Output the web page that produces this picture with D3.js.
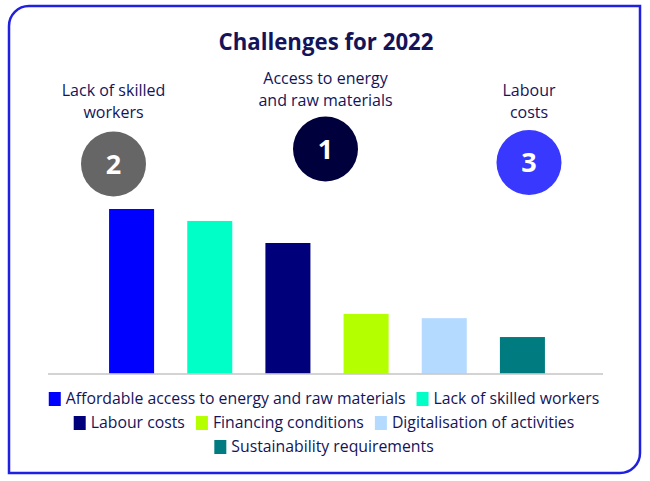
<!DOCTYPE html>
<html><head><meta charset="utf-8">
<script src="https://cdn.jsdelivr.net/npm/d3@7/dist/d3.min.js"></script>
<style>html,body{margin:0;padding:0;background:#fff;}svg{display:block;}</style>
</head><body>
<svg id="chart" width="650" height="481"></svg>
<script>
const title = "Challenges for 2022";
const categories = ["Affordable access to energy and raw materials","Lack of skilled workers","Labour costs","Financing conditions","Digitalisation of activities","Sustainability requirements"];
const values = [62, 57.5, 49.2, 22.5, 20.9, 13.8];
const colors = ["#0000ff","#00ffc6","#00007a","#b4ff00","#b4daff","#007c80"];
const rankLabels = [["Lack of skilled","workers"],["Access to energy","and raw materials"],["Labour","costs"]];
const rankNumbers = ["2","1","3"];
const rankColors = ["#666666","#00003c","#3838ff"];

const svg = d3.select("#chart");
const font = "'Open Sans', sans-serif";
const textColor = "#14145a";

// border: rounded top-left and bottom-right
const L=9,T=6,R=640,B=473,r=20;
svg.append("path")
  .attr("d",`M${L+r},${T} L${R},${T} L${R},${B-r} A${r},${r} 0 0 1 ${R-r},${B} L${L},${B} L${L},${T+r} A${r},${r} 0 0 1 ${L+r},${T} Z`)
  .attr("fill","#fff").attr("stroke","#2020e0").attr("stroke-width",2.5);

svg.append("text").attr("x",326).attr("y",50).attr("text-anchor","middle")
  .attr("font-family",font).attr("font-weight",700).attr("font-size",22.5)
  .attr("fill",textColor).attr("textLength",215).attr("lengthAdjust","spacingAndGlyphs").text(title);

// bars
const x = d3.scaleBand().domain(categories).range([92.5,561.5]).paddingInner(0.424).paddingOuter(0.212);
const y = d3.scaleLinear().domain([0,62]).range([373.7,209]);
svg.append("g").selectAll("rect").data(categories).join("rect")
  .attr("x",d=>x(d)).attr("width",x.bandwidth())
  .attr("y",(d,i)=>y(values[i])).attr("height",(d,i)=>y(0)-y(values[i]))
  .attr("fill",(d,i)=>colors[i]);
svg.append("line").attr("x1",48).attr("x2",603).attr("y1",374).attr("y2",374)
  .attr("stroke","#c4c4c4").attr("stroke-width",1.5);

// rank circles
const rankPos = [{cx:113.5,cy:164,ty:96},{cx:325.5,cy:149,ty:84},{cx:529,cy:162.5,ty:96}];
rankPos.forEach((p,i)=>{
  rankLabels[i].forEach((ln,j)=>svg.append("text").attr("text-anchor","middle").attr("font-family",font)
    .attr("font-size",16).attr("fill",textColor).attr("x",p.cx).attr("y",p.ty+j*22)
    .attr("textLength",null).text(ln));
  svg.append("circle").attr("cx",p.cx).attr("cy",p.cy).attr("r",32.5).attr("fill",rankColors[i]);
  svg.append("text").attr("x",p.cx).attr("y",p.cy+9.5).attr("text-anchor","middle")
    .attr("font-family",font).attr("font-weight",700).attr("font-size",27)
    .attr("fill","#fff").text(rankNumbers[i]);
});

// legend with wrapping
const lg = svg.append("g");
const sq = 12, gapT = 5, gapI = 11, maxW = 565, fs = 15.8;
const items = categories.map((c,i)=>{
  const t = lg.append("text").attr("font-family",font).attr("font-size",fs).attr("fill",textColor).text(c);
  return {t, w: sq+gapT+t.node().getComputedTextLength(), i};
});
const rows=[]; let cur=[], cw=0;
items.forEach(it=>{
  const add = (cur.length? gapI:0)+it.w;
  if(cur.length && cw+add>maxW){rows.push({items:cur,w:cw}); cur=[it]; cw=it.w;}
  else {cur.push(it); cw+=add;}
});
rows.push({items:cur,w:cw});
rows.forEach((row,ri)=>{
  let xx = 324 - row.w/2; const yy = 404 + ri*24;
  row.items.forEach(it=>{
    lg.append("rect").attr("x",xx).attr("y",yy-12).attr("width",sq).attr("height",14).attr("fill",colors[it.i]);
    it.t.attr("x",xx+sq+gapT).attr("y",yy);
    xx += it.w + gapI;
  });
});
</script>
</body></html>
